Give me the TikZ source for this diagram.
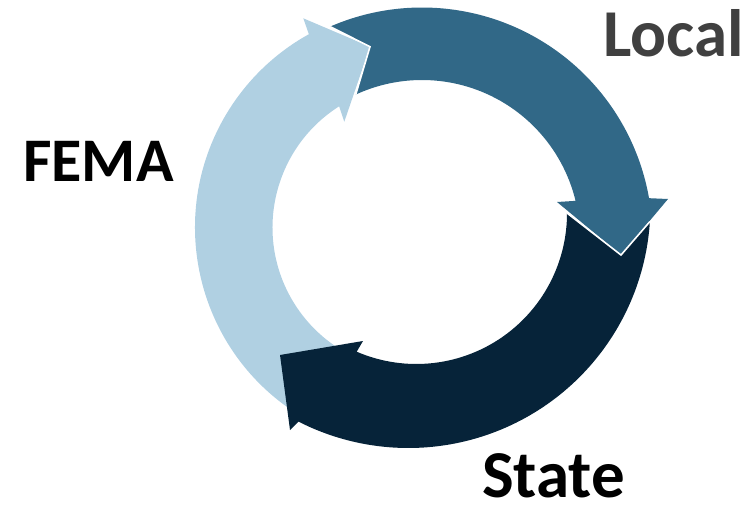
\documentclass[tikz,border=0pt]{standalone}
\usepackage{fontspec}
\setmainfont{Carlito}
\usetikzlibrary{calc}
\definecolor{lbfill}{RGB}{176,208,226}
\definecolor{tealfill}{RGB}{49,104,135}
\definecolor{navyfill}{RGB}{6,35,57}
\definecolor{lgray}{RGB}{64,64,64}
\begin{document}
\begin{tikzpicture}[x=1pt,y=-1pt,
  lbl/.style={inner sep=0pt, anchor=base west, text depth=0pt},
  sep/.style={draw=white, line width=1.6pt, line join=miter}]
\useasboundingbox (0,0) rectangle (754,505);
% centres of the arcs
\coordinate (cL) at (416,227.5);
\coordinate (cT) at (422,238);
\coordinate (cNo) at (408.4,206);
\coordinate (cNi) at (416.3,213.3);
% arrow heads
\coordinate (lbOB) at (303.3,18.3);
\coordinate (lbTip) at (370,46.7);
\coordinate (lbIB) at (344.3,121.7);
\coordinate (tOB) at (668,199);
\coordinate (tTip) at (621,255);
\coordinate (tIB) at (557,202);
\coordinate (nOB) at (290,430);
\coordinate (nTip) at (280,355);
\coordinate (nIB) at (363,341);
% FEMA arrow (light blue)
\fill[lbfill] ($(cL)+(124:221)$) arc[start angle=124, end angle=241, radius=221]
  -- (lbOB) -- (lbTip) -- (lbIB) -- ($(cL)+(237.6:143.5)$)
  arc[start angle=237.6, end angle=120, radius=143.5] -- (nTip) -- cycle;
% Local arrow (teal)
\fill[tealfill] ($(cT)+(246.5:230.5)$) arc[start angle=246.5, end angle=350.05, radius=230.5]
  -- (tOB) -- (tTip) -- (tIB) -- ($(cT)+(346.4:158)$)
  arc[start angle=346.4, end angle=245.2, radius=158] -- (lbTip) -- cycle;
\draw[sep] ($(cT)+(246.5:230.5)$) -- (lbTip) -- ($(cT)+(245.2:158)$);
% State arrow (navy)
\fill[navyfill] ($(cNo)+(3.7:242)$) arc[start angle=3.7, end angle=117, radius=242]
  -- (nOB) -- (nTip) -- (nIB) -- ($(cNi)+(113.3:150.7)$)
  arc[start angle=113.3, end angle=-0.1, radius=150.7] -- (tTip) -- cycle;
\draw[sep] ($(cNo)+(3.7:242)$) -- (tTip) -- ($(cNi)+(-0.1:150.7)$);
% labels
\node[lbl, text=lgray, font=\fontsize{67}{67}\selectfont\bfseries] (local) at (603,56.7) {Local};
\node[lbl, font=\fontsize{62}{62}\selectfont\bfseries] (fema) at (23,181.7) {FEMA};
\node[lbl, font=\fontsize{67}{67}\selectfont\bfseries] (state) at (482,497) {State};
\end{tikzpicture}
\end{document}
